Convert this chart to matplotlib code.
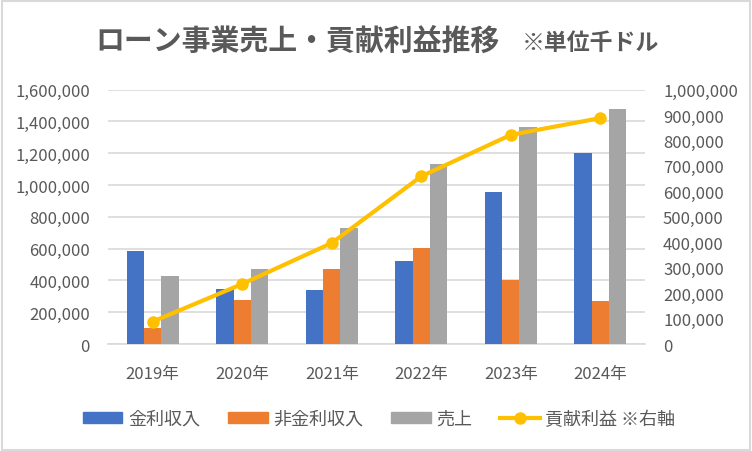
import matplotlib
matplotlib.use("Agg")
import matplotlib.pyplot as plt
import numpy as np
from matplotlib.ticker import FuncFormatter, MultipleLocator
from matplotlib.patches import Rectangle
from matplotlib.lines import Line2D

plt.rcParams['font.family'] = ['Noto Sans CJK JP', 'DejaVu Sans']

categories = ["2019年", "2020年", "2021年", "2022年", "2023年", "2024年"]
interest_income = [585000, 346000, 340000, 522000, 957000, 1204000]
non_interest_income = [101000, 277000, 472000, 604000, 403000, 271000]
sales = [428000, 472000, 730000, 1131000, 1366000, 1479000]
contribution_profit = [88000, 236000, 397000, 659000, 822000, 888000]

series_names = ["金利収入", "非金利収入", "売上", "貢献利益 ※右軸"]
title_main = "ローン事業売上・貢献利益推移"
title_sub = "※単位千ドル"

TXT = "#595959"
GRID = "#D9D9D9"
C_BLUE = "#4472C4"
C_ORANGE = "#ED7D31"
C_GRAY = "#A5A5A5"
C_GOLD = "#FFC000"

fig = plt.figure(figsize=(7.52, 4.52), dpi=100)
fig.patches.append(Rectangle((0.002, 0.002), 0.996, 0.994, transform=fig.transFigure,
                             fill=False, edgecolor=GRID, linewidth=1.5))

ax = fig.add_axes([108/752, 1-345/452, 537/752, (345-90.6)/452])
x = np.arange(len(categories))
w = 0.193
ax.bar(x - w, interest_income, w, color=C_BLUE, zorder=3)
ax.bar(x, non_interest_income, w, color=C_ORANGE, zorder=3)
ax.bar(x + w, sales, w, color=C_GRAY, zorder=3)

ax.set_xlim(-0.5, len(categories) - 0.5)
ax.set_ylim(0, 1600000)
ax.yaxis.set_major_locator(MultipleLocator(200000))
ax.yaxis.set_major_formatter(FuncFormatter(lambda v, p: f"{int(v):,}"))
ax.set_xticks(x)
ax.set_xticklabels(categories)
ax.grid(axis='y', color=GRID, linewidth=1.2, zorder=0)
ax.set_axisbelow(True)
for s in ['top', 'right', 'left']:
    ax.spines[s].set_visible(False)
ax.spines['bottom'].set_color(GRID)
ax.spines['bottom'].set_linewidth(1.2)
ax.tick_params(axis='both', length=0, colors=TXT, labelsize=12)
ax.tick_params(axis='y', pad=13)
ax.tick_params(axis='x', pad=15)

ax2 = ax.twinx()
ax2.plot(x, contribution_profit, color=C_GOLD, linewidth=3, marker='o', markersize=8, zorder=5)
ax2.set_ylim(0, 1000000)
ax2.yaxis.set_major_locator(MultipleLocator(100000))
ax2.yaxis.set_major_formatter(FuncFormatter(lambda v, p: f"{int(v):,}"))
for s in ax2.spines.values():
    s.set_visible(False)
ax2.tick_params(axis='y', length=0, colors=TXT, labelsize=12, pad=13)

fig.text(95/752, 1-41/452, title_main, ha='left', va='center',
         fontsize=20.8, fontweight='bold', color=TXT)
fig.text(522/752, 1-43/452, title_sub, ha='left', va='center', fontsize=16.5,
         fontweight='bold', color=TXT)

handles = [
    Rectangle((0, 0), 1, 1, color=C_BLUE),
    Rectangle((0, 0), 1, 1, color=C_ORANGE),
    Rectangle((0, 0), 1, 1, color=C_GRAY),
    Line2D([], [], color=C_GOLD, linewidth=3, marker='o', markersize=8),
]
leg = fig.legend(handles, series_names, loc='center', bbox_to_anchor=(379/752, 1-420/452),
                 ncol=4, frameon=False, fontsize=13, handlelength=2.2, handleheight=0.55,
                 columnspacing=1.55, handletextpad=0.3, labelcolor=TXT,
                 borderaxespad=0, borderpad=0)

fig.savefig("out.png", dpi=100)
